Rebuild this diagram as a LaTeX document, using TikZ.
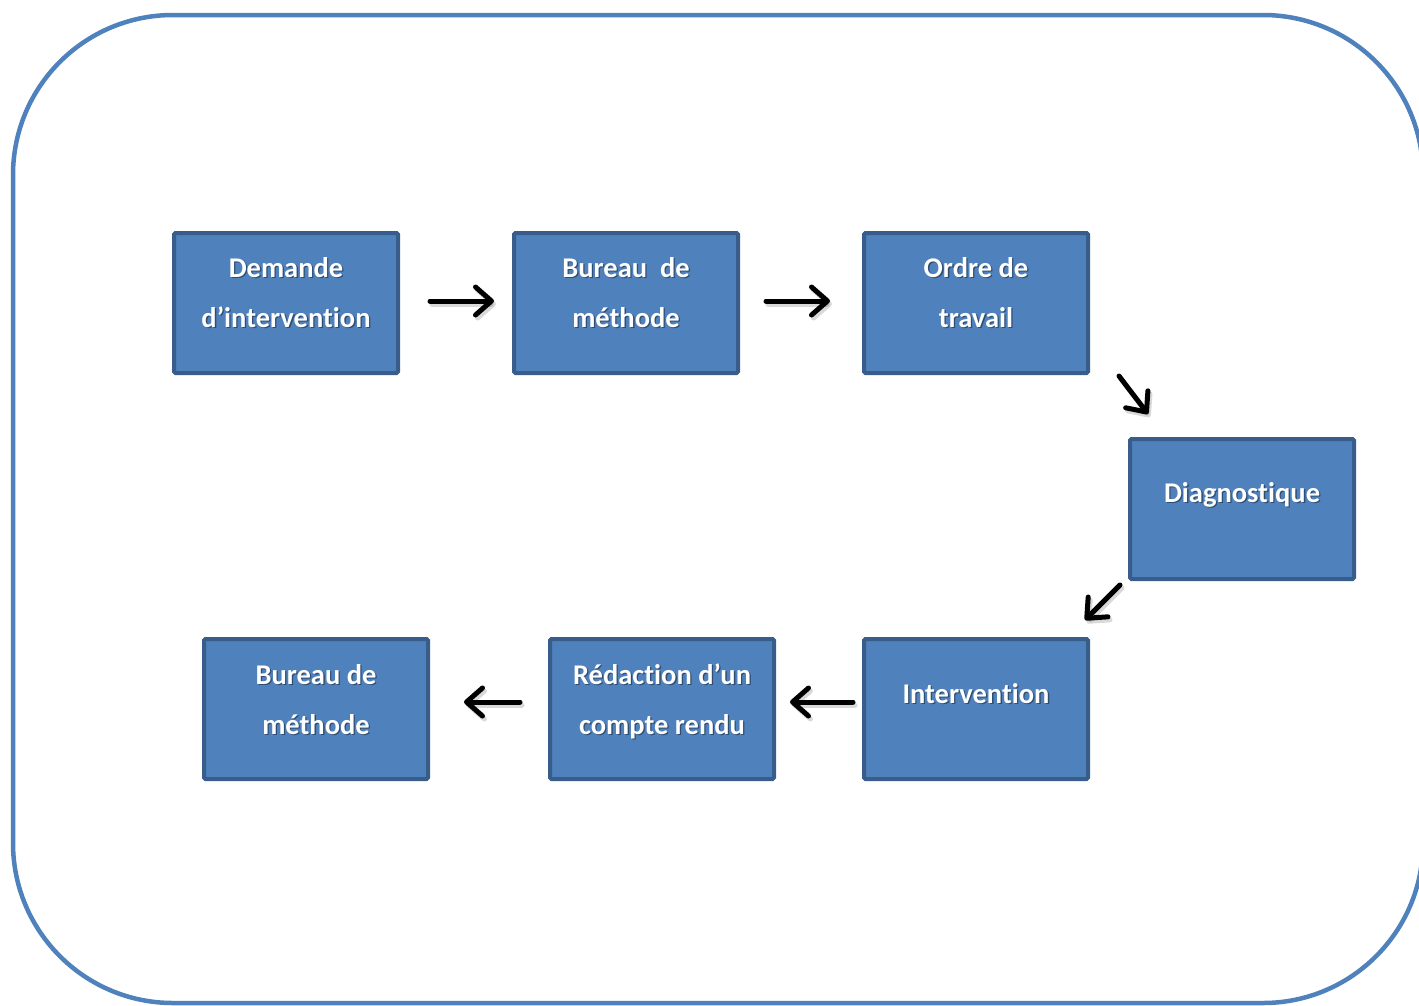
\documentclass[tikz,border=0pt]{standalone}
\usepackage{fontspec}
\newfontfamily\carlito[Ligatures=NoCommon]{Carlito}
\usetikzlibrary{arrows.meta}
\definecolor{boxfill}{HTML}{4F81BD}
\definecolor{boxline}{HTML}{385D8A}
\definecolor{framecol}{HTML}{4F81BD}
\tikzset{
  stepbox/.style={draw=boxline, fill=boxfill, line width=4pt,
    minimum width=224pt, minimum height=140pt, rounded corners=1.5pt, inner sep=0pt},
  boxtext/.style={text=white, font=\carlito\bfseries\fontsize{28.5}{50}\selectfont,
    align=center, anchor=base, inner sep=0pt},
  boxshade/.style={boxtext, text=black, text opacity=0.4},
  flow/.style={line width=5pt, line cap=round,
    -{Straight Barb[length=16pt,width=28pt,round]}},
}
% white label with a soft dark drop shadow; the shift sets the baseline of the last line
\newcommand\steptext[4]{%
  \node[boxshade] (#1s) at ([xshift=1.3pt,yshift=#3pt-1.3pt]#2.center) {#4};
  \node[boxtext] (#1) at ([yshift=#3pt]#2.center) {#4};}
% black arrow with a faint offset shadow
\newcommand\flowarrow[2]{%
  \draw[flow, draw=black, opacity=0.15, transform canvas={xshift=2pt,yshift=-3pt}] (#1) -- (#2);
  \draw[flow] (#1) -- (#2);}
\begin{document}
\begin{tikzpicture}[x=1pt, y=-1pt]
  \useasboundingbox (0,0) rectangle (1419,1005);
  \clip (0,0) rectangle (1419,1005);

  % outer rounded frame
  \draw[framecol, line width=4.5pt, rounded corners=160pt] (13,15) rectangle (1423,1003);

  % process boxes
  \node[stepbox] (b1) at (286,303) {};
  \node[stepbox] (b2) at (626,303) {};
  \node[stepbox] (b3) at (976,303) {};
  \node[stepbox] (b4) at (1242,509) {};
  \node[stepbox] (b5) at (976,709) {};
  \node[stepbox] (b6) at (662,709) {};
  \node[stepbox] (b7) at (316,709) {};

  % labels
  \steptext{t1}{b1}{-24}{Demande\\d’intervention}
  \steptext{t2}{b2}{-24}{Bureau\ \ de\\méthode}
  \steptext{t3}{b3}{-24}{Ordre de\\travail}
  \steptext{t4}{b4}{7}{Diagnostique}
  \steptext{t5}{b5}{6}{Intervention}
  \steptext{t6}{b6}{-25}{Rédaction d’un\\compte rendu}
  \steptext{t7}{b7}{-25}{Bureau de\\méthode}

  % connectors
  \flowarrow{[xshift=30pt,yshift=2pt]b1.east}{[xshift=-18pt,yshift=2pt]b2.west}
  \flowarrow{[xshift=26pt,yshift=2pt]b2.east}{[xshift=-32pt,yshift=2pt]b3.west}
  \flowarrow{[xshift=29pt,yshift=-1pt]b3.south east}{[xshift=20pt,yshift=23pt]b4.north west}
  \flowarrow{[xshift=-8pt,yshift=-4pt]b4.south west}{[xshift=-5pt,yshift=17pt]b5.north east}
  \flowarrow{[xshift=-9pt,yshift=7pt]b5.west}{[xshift=14pt,yshift=7pt]b6.east}
  \flowarrow{[xshift=-28pt,yshift=7pt]b6.west}{[xshift=34pt,yshift=7pt]b7.east}
\end{tikzpicture}
\end{document}
